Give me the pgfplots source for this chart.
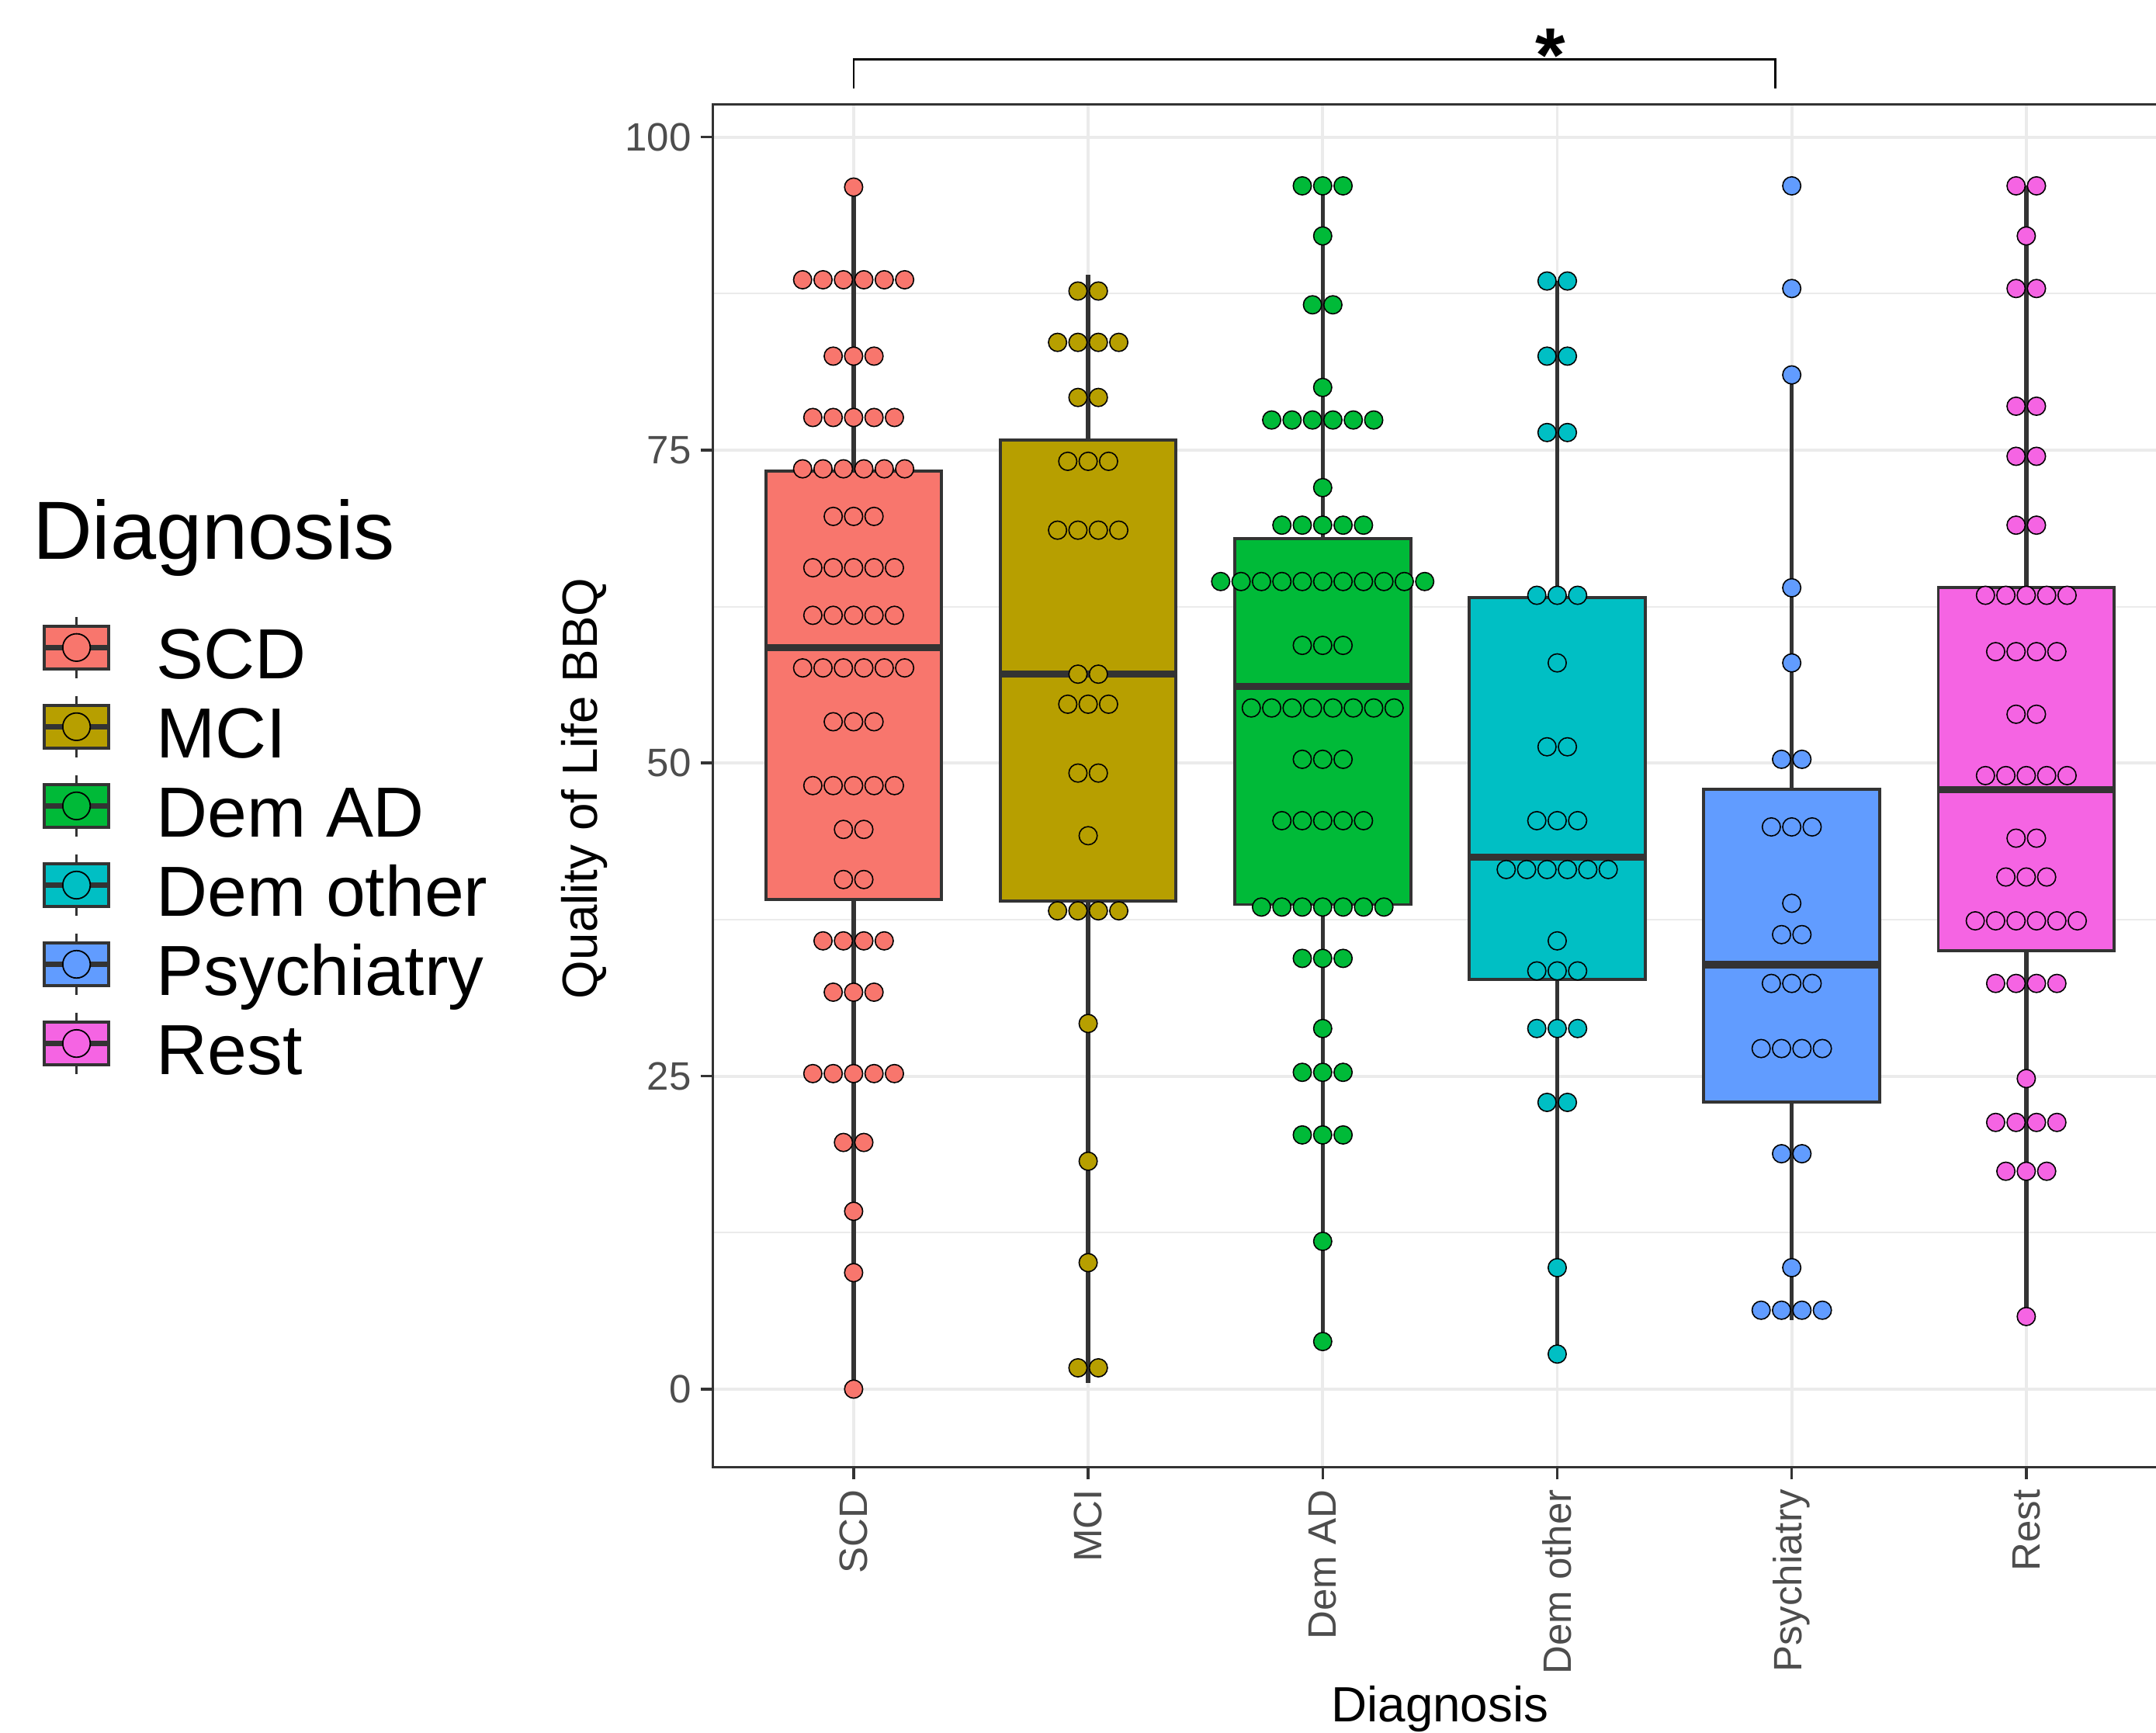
\documentclass[border=0pt]{standalone}
\usepackage{fontspec}
\setmainfont{Liberation Sans}
\usepackage{pgfplots}
\pgfplotsset{compat=1.18}
\usepgfplotslibrary{statistics}
\definecolor{cSCD}{HTML}{F8766D}
\definecolor{cMCI}{HTML}{B79F00}
\definecolor{cAD}{HTML}{00BA38}
\definecolor{cOth}{HTML}{00BFC4}
\definecolor{cPsy}{HTML}{619CFF}
\definecolor{cRest}{HTML}{F564E3}
\definecolor{g20}{HTML}{333333}
\definecolor{g30}{HTML}{4D4D4D}
\definecolor{gridc}{HTML}{EBEBEB}
\pgfplotsset{
  lkey/.style={legend image code/.code={
    \draw[draw=g20, line width=1pt] (11.7pt,-11.15pt) -- (11.7pt,11.15pt);
    \draw[draw=g20, fill=#1, line width=1pt] (0pt,-7.75pt) rectangle (23.4pt,7.75pt);
    \draw[draw=g20, line width=1.8pt] (0pt,0pt) -- (23.4pt,0pt);
    \draw[draw=black, fill=#1, line width=0.5pt] (11.7pt,0pt) circle (5pt);
  }},
  dots/.style={only marks, mark=*, mark size=3.3pt, mark options={fill=#1, draw=black, line width=0.45pt}, lkey=#1},
  bp/.style={forget plot, draw=g20, fill=#1, line width=1.1pt},
  boxplot/draw direction=y,
  boxplot/every whisker/.style={line width=1.5pt},
  boxplot/every median/.style={line width=2.6pt},
}
\begin{document}
\begin{tikzpicture}
\path[use as bounding box] (-259.25pt,-96.5pt) rectangle (524.75pt,533.5pt);
\begin{axis}[
  at={(0pt,0pt)}, anchor=south west,
  scale only axis, width=528.75pt, height=495.6pt,
  xmin=0.4, xmax=6.6, ymin=-6.23, ymax=102.62,
  xtick={1,2,3,4,5,6},
  xticklabels={SCD,MCI,Dem AD,Dem other,Psychiatry,Rest},
  ytick={0,25,50,75,100},
  minor ytick={12.5,37.5,62.5,87.5},
  xmajorgrids, ymajorgrids, yminorgrids,
  major grid style={draw=gridc, line width=1.1pt},
  minor grid style={draw=gridc, line width=0.55pt},
  axis line style={draw=g20, line width=1pt},
  tick style={draw=g20, line width=1pt},
  tick align=outside, major tick length=4.5pt, minor tick length=0pt,
  xtick pos=bottom, ytick pos=left,
  /pgf/number format/assume math mode=true,
  yticklabel style={font=\fontsize{14.4}{14.4}\selectfont, text=g30, inner sep=0pt},
  xticklabel style={font=\fontsize{14.4}{14.4}\selectfont, text=g30, inner sep=0pt, rotate=90, anchor=east},
  yticklabel shift=3.25pt,
  xticklabel shift=3.5pt,
  every axis y label/.style={at={(axis description cs:-0.0884,0.498)}, rotate=90, anchor=center, font=\fontsize{18}{18}\selectfont},
  every axis x label/.style={at={(axis description cs:0.5,-0.1867)}, anchor=base, font=\fontsize{18}{18}\selectfont},
  ylabel={Quality of Life BBQ},
  xlabel={Diagnosis},
  clip=false,
  legend cell align=left,
  legend style={at={(axis description cs:-0.4615,0.6269)}, anchor=north west, draw=none, fill=none,
    inner sep=0pt, outer sep=0pt, row sep=3.5pt, column sep=16.5pt,
    font=\fontsize{25.8}{25.8}\selectfont,
    nodes={inner sep=0pt, text height=24pt, text depth=1.3pt}},
]
% boxes
\addplot[bp=cSCD, boxplot prepared={draw direction=y, draw position=1, lower whisker=0, lower quartile=39.1, median=59.2, upper quartile=73.3, upper whisker=96.0, box extend=0.75, whisker extend=0}] coordinates {};
\addplot[bp=cMCI, boxplot prepared={draw direction=y, draw position=2, lower whisker=0.5, lower quartile=39.0, median=57.1, upper quartile=75.8, upper whisker=89.0, box extend=0.75, whisker extend=0}] coordinates {};
\addplot[bp=cAD, boxplot prepared={draw direction=y, draw position=3, lower whisker=3.8, lower quartile=38.7, median=56.1, upper quartile=67.9, upper whisker=96.1, box extend=0.75, whisker extend=0}] coordinates {};
\addplot[bp=cOth, boxplot prepared={draw direction=y, draw position=4, lower whisker=2.8, lower quartile=32.7, median=42.5, upper quartile=63.2, upper whisker=88.5, box extend=0.75, whisker extend=0}] coordinates {};
\addplot[bp=cPsy, boxplot prepared={draw direction=y, draw position=5, lower whisker=5.5, lower quartile=22.9, median=33.9, upper quartile=47.9, upper whisker=81.0, box extend=0.75, whisker extend=0}] coordinates {};
\addplot[bp=cRest, boxplot prepared={draw direction=y, draw position=6, lower whisker=5.8, lower quartile=35.0, median=47.9, upper quartile=64.0, upper whisker=96.1, box extend=0.75, whisker extend=0}] coordinates {};
% dots
\addplot[dots=cSCD] coordinates {
(1,96.0)
(0.7825,88.6)(0.8695,88.6)(0.9565,88.6)(1.0435,88.6)(1.1305,88.6)(1.2175,88.6)
(0.913,82.5)(1,82.5)(1.087,82.5)
(0.826,77.6)(0.913,77.6)(1,77.6)(1.087,77.6)(1.174,77.6)
(0.7825,73.5)(0.8695,73.5)(0.9565,73.5)(1.0435,73.5)(1.1305,73.5)(1.2175,73.5)
(0.913,69.7)(1,69.7)(1.087,69.7)
(0.826,65.6)(0.913,65.6)(1,65.6)(1.087,65.6)(1.174,65.6)
(0.826,61.8)(0.913,61.8)(1,61.8)(1.087,61.8)(1.174,61.8)
(0.7825,57.6)(0.8695,57.6)(0.9565,57.6)(1.0435,57.6)(1.1305,57.6)(1.2175,57.6)
(0.913,53.3)(1,53.3)(1.087,53.3)
(0.826,48.2)(0.913,48.2)(1,48.2)(1.087,48.2)(1.174,48.2)
(0.9565,44.7)(1.0435,44.7)
(0.9565,40.7)(1.0435,40.7)
(0.8695,35.8)(0.9565,35.8)(1.0435,35.8)(1.1305,35.8)
(0.913,31.7)(1,31.7)(1.087,31.7)
(0.826,25.2)(0.913,25.2)(1,25.2)(1.087,25.2)(1.174,25.2)
(0.9565,19.7)(1.0435,19.7)
(1,14.2)(1,9.3)(1,0)
};
\addlegendentry{SCD}
\addplot[dots=cMCI] coordinates {
(1.9565,87.7)(2.0435,87.7)
(1.8695,83.6)(1.9565,83.6)(2.0435,83.6)(2.1305,83.6)
(1.9565,79.2)(2.0435,79.2)
(1.913,74.1)(2,74.1)(2.087,74.1)
(1.8695,68.6)(1.9565,68.6)(2.0435,68.6)(2.1305,68.6)
(1.9565,57.1)(2.0435,57.1)
(1.913,54.7)(2,54.7)(2.087,54.7)
(1.9565,49.2)(2.0435,49.2)
(2,44.2)
(1.8695,38.2)(1.9565,38.2)(2.0435,38.2)(2.1305,38.2)
(2,29.2)(2,18.2)(2,10.1)
(1.9565,1.7)(2.0435,1.7)
};
\addlegendentry{MCI}
\addplot[dots=cAD] coordinates {
(2.913,96.1)(3,96.1)(3.087,96.1)
(3,92.1)
(2.9565,86.6)(3.0435,86.6)
(3,80.0)
(2.7825,77.4)(2.8695,77.4)(2.9565,77.4)(3.0435,77.4)(3.1305,77.4)(3.2175,77.4)
(3,72.0)
(2.826,69.0)(2.913,69.0)(3,69.0)(3.087,69.0)(3.174,69.0)
(2.565,64.5)(2.652,64.5)(2.739,64.5)(2.826,64.5)(2.913,64.5)(3,64.5)(3.087,64.5)(3.174,64.5)(3.261,64.5)(3.348,64.5)(3.435,64.5)
(2.913,59.4)(3,59.4)(3.087,59.4)
(2.6955,54.4)(2.7825,54.4)(2.8695,54.4)(2.9565,54.4)(3.0435,54.4)(3.1305,54.4)(3.2175,54.4)(3.3045,54.4)
(2.913,50.3)(3,50.3)(3.087,50.3)
(2.826,45.4)(2.913,45.4)(3,45.4)(3.087,45.4)(3.174,45.4)
(2.739,38.5)(2.826,38.5)(2.913,38.5)(3,38.5)(3.087,38.5)(3.174,38.5)(3.261,38.5)
(2.913,34.4)(3,34.4)(3.087,34.4)
(3,28.8)
(2.913,25.3)(3,25.3)(3.087,25.3)
(2.913,20.3)(3,20.3)(3.087,20.3)
(3,11.8)(3,3.8)
};
\addlegendentry{Dem AD}
\addplot[dots=cOth] coordinates {
(3.9565,88.5)(4.0435,88.5)
(3.9565,82.5)(4.0435,82.5)
(3.9565,76.4)(4.0435,76.4)
(3.913,63.4)(4,63.4)(4.087,63.4)
(4,58.0)
(3.9565,51.3)(4.0435,51.3)
(3.913,45.4)(4,45.4)(4.087,45.4)
(3.7825,41.5)(3.8695,41.5)(3.9565,41.5)(4.0435,41.5)(4.1305,41.5)(4.2175,41.5)
(4,35.8)
(3.913,33.4)(4,33.4)(4.087,33.4)
(3.913,28.8)(4,28.8)(4.087,28.8)
(3.9565,22.9)(4.0435,22.9)
(4,9.7)(4,2.8)
};
\addlegendentry{Dem other}
\addplot[dots=cPsy] coordinates {
(5,96.1)(5,87.9)(5,81.0)(5,64.0)(5,58.0)
(4.9565,50.3)(5.0435,50.3)
(4.913,44.9)(5,44.9)(5.087,44.9)
(5,38.8)
(4.9565,36.3)(5.0435,36.3)
(4.913,32.4)(5,32.4)(5.087,32.4)
(4.8695,27.2)(4.9565,27.2)(5.0435,27.2)(5.1305,27.2)
(4.9565,18.8)(5.0435,18.8)
(5,9.7)
(4.8695,6.3)(4.9565,6.3)(5.0435,6.3)(5.1305,6.3)
};
\addlegendentry{Psychiatry}
\addplot[dots=cRest] coordinates {
(5.9565,96.1)(6.0435,96.1)
(6,92.1)
(5.9565,87.9)(6.0435,87.9)
(5.9565,78.5)(6.0435,78.5)
(5.9565,74.5)(6.0435,74.5)
(5.9565,69.0)(6.0435,69.0)
(5.826,63.4)(5.913,63.4)(6,63.4)(6.087,63.4)(6.174,63.4)
(5.8695,58.9)(5.9565,58.9)(6.0435,58.9)(6.1305,58.9)
(5.9565,53.9)(6.0435,53.9)
(5.826,49.0)(5.913,49.0)(6,49.0)(6.087,49.0)(6.174,49.0)
(5.9565,44.0)(6.0435,44.0)
(5.913,40.9)(6,40.9)(6.087,40.9)
(5.7825,37.4)(5.8695,37.4)(5.9565,37.4)(6.0435,37.4)(6.1305,37.4)(6.2175,37.4)
(5.8695,32.4)(5.9565,32.4)(6.0435,32.4)(6.1305,32.4)
(6,24.8)
(5.8695,21.3)(5.9565,21.3)(6.0435,21.3)(6.1305,21.3)
(5.913,17.4)(6,17.4)(6.087,17.4)
(6,5.8)
};
\addlegendentry{Rest}
% significance bracket
\draw[black, line width=0.75pt] (axis cs:1,103.9) -- (axis cs:1,106.2) -- (axis cs:4.93,106.2) -- (axis cs:4.93,103.9);
\node[anchor=base, inner sep=0pt, font=\bfseries\fontsize{28}{28}\selectfont] at (axis cs:3.97,104.4) {*};
% legend title
\node[anchor=base west, inner sep=0pt, font=\fontsize{30}{30}\selectfont] at (axis description cs:-0.4682,0.6663) {Diagnosis};
\end{axis}
\end{tikzpicture}
\end{document}
